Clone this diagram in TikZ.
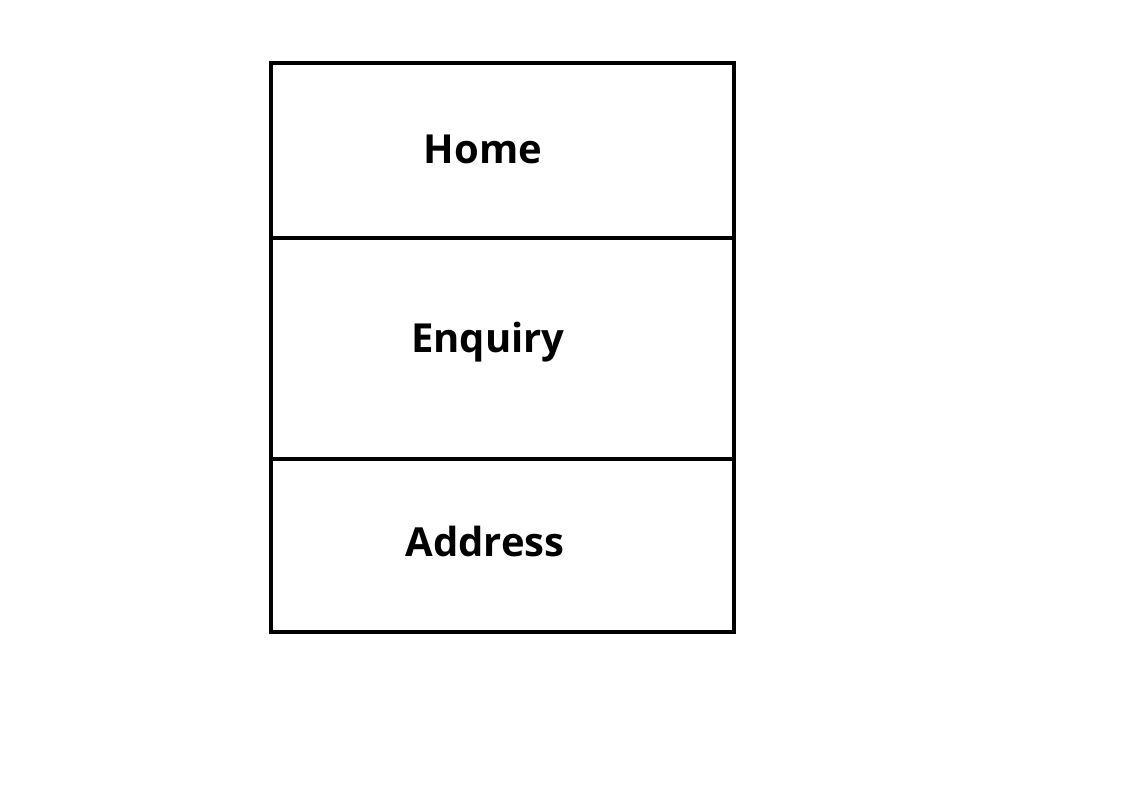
\documentclass[tikz,border=0pt]{standalone}
\usepackage{fontspec}
\setmainfont{Open Sans}
\begin{document}
\begin{tikzpicture}[x=0.5pt,y=-0.5pt,
  cell/.style={draw=black,line width=1.6pt,inner sep=0pt,outer sep=0pt,minimum width=231.5pt},
  lbl/.style={font=\bfseries\fontsize{20}{24}\selectfont,inner sep=0pt}]
\useasboundingbox (0,0) rectangle (1121,789);
\node[cell,minimum height=87.5pt,anchor=north west] (home) at (271,63) {};
\node[cell,minimum height=110.5pt,anchor=north west] (enq) at (271,238) {};
\node[cell,minimum height=86.5pt,anchor=north west] (addr) at (271,459) {};
\node[lbl] (thome) at (483,149) {Home};
\node[lbl] (tenq) at (488,342) {Enquiry};
\node[lbl] (taddr) at (485,541) {Address};
\end{tikzpicture}
\end{document}
